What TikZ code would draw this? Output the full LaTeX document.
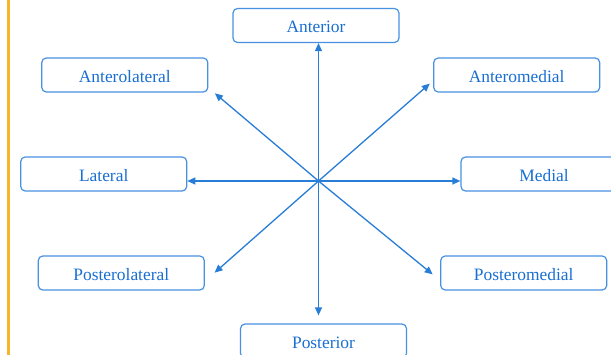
\documentclass[tikz,border=0pt]{standalone}
\usepackage{fontspec}
\setmainfont{Liberation Serif}
\usetikzlibrary{arrows.meta}
\definecolor{dirtext}{RGB}{25,110,210}
\definecolor{dirbox}{RGB}{70,145,225}
\definecolor{dirline}{RGB}{40,125,215}
\definecolor{sidebar}{RGB}{247,181,41}

\begin{document}
\begin{tikzpicture}[x=1pt,y=-1pt,
  dirnode/.style={draw=dirbox,line width=1.2pt,rounded corners=4.5pt,text=dirtext,
    minimum width=166pt,minimum height=34pt,inner sep=0pt,
    text height=15pt,text depth=0pt,
    font=\fontsize{17.4}{20}\selectfont},
  dirarrow/.style={draw=dirline,line width=1.3pt,-{Triangle[length=8pt,width=7pt]}}]
\useasboundingbox (0,0) rectangle (611,355);
\clip (0,0) rectangle (611,355);
\draw [sidebar,line width=2.4pt] (8.5,0) -- (8.5,355);
\coordinate (o) at (318.5,181);
\node [dirnode] (ant) at (316,25.5) {Anterior};
\node [dirnode] (alat) at (124.8,75) {Anterolateral};
\node [dirnode] (amed) at (516.7,75) {Anteromedial};
\node [dirnode] (lat) at (103.7,174) {Lateral};
\node [dirnode] (med) at (544,174) {Medial};
\node [dirnode] (plat) at (121.3,273) {Posterolateral};
\node [dirnode] (pmed) at (523.7,273) {Posteromedial};
\node [dirnode] (post) at (323.5,341) {Posterior};
\draw [dirarrow] (o) -- (ant.south -| o);
\draw [dirarrow,shorten >=8pt] (o) -- (post.north -| o);
\draw [dirarrow] (o) -- (lat.east |- o);
\draw [dirarrow] (o) -- (med.west |- o);
\draw [dirarrow] (o) -- ([shift={(6.5,0.7)}]alat.south east);
\draw [dirarrow] (o) -- ([shift={(-3.3,-9)}]amed.south west);
\draw [dirarrow] (o) -- ([shift={(9.7,17.3)}]plat.north east);
\draw [dirarrow] (o) -- ([shift={(-7.4,19)}]pmed.north west);
\end{tikzpicture}
\end{document}
